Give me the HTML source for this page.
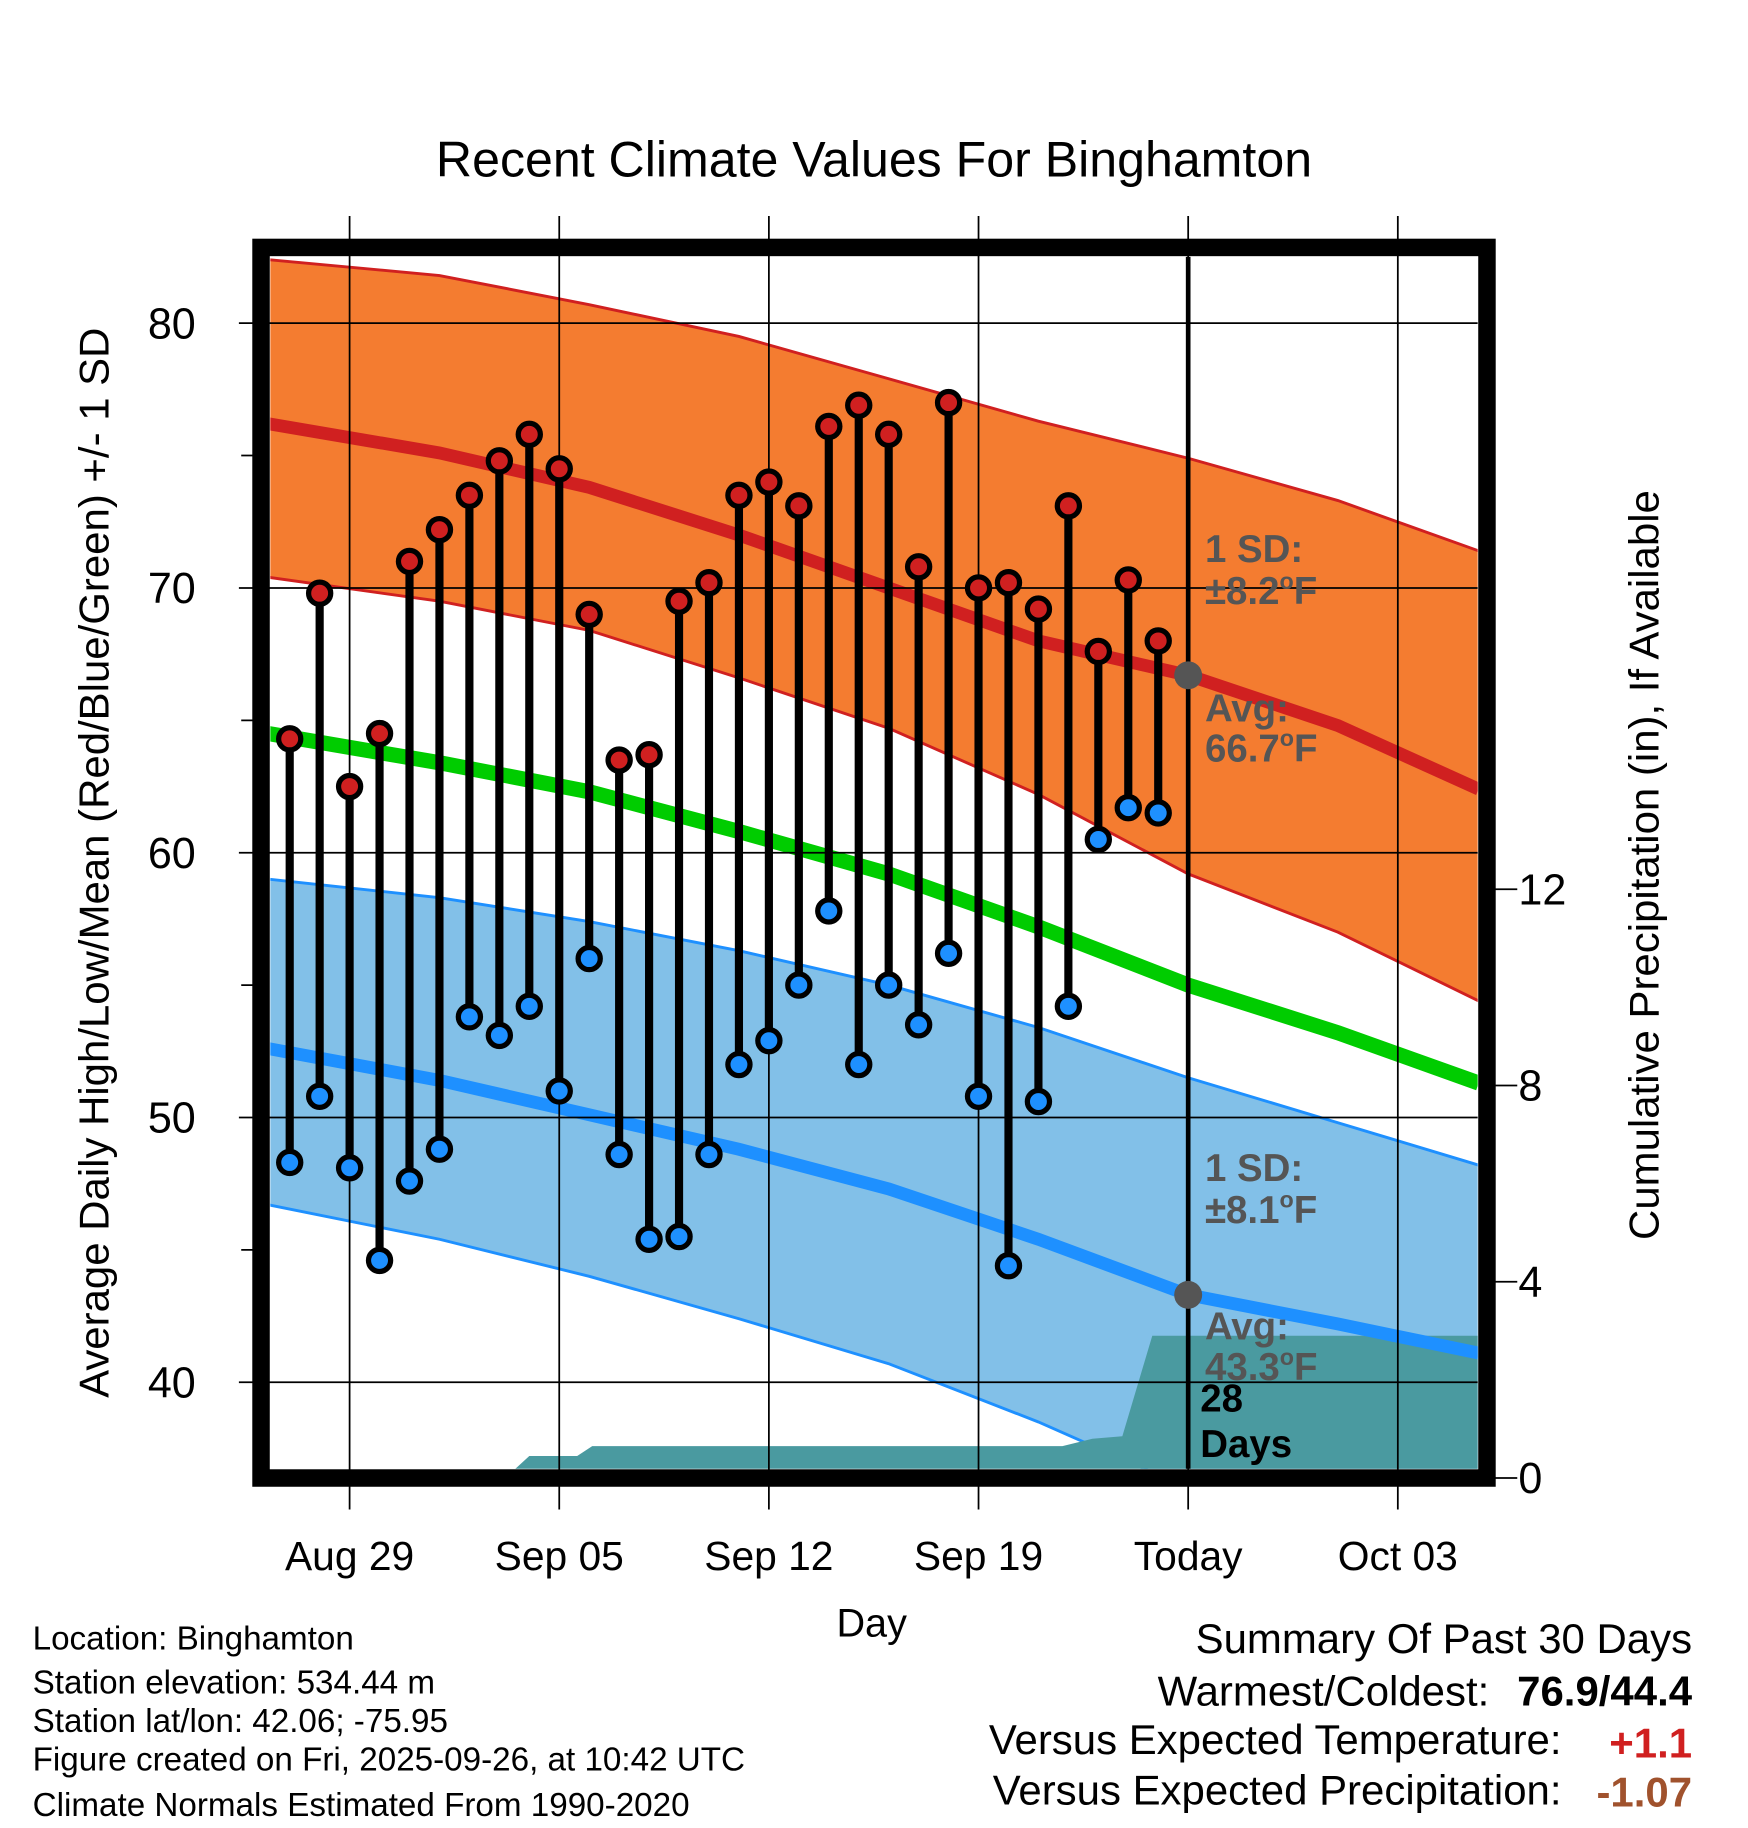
<!DOCTYPE html>
<html><head><meta charset="utf-8"><style>
html,body{margin:0;padding:0;background:#fff;}
svg{display:block;font-family:"Liberation Sans",Arial,sans-serif;}
</style></head><body>
<svg id="chart" width="1748" height="1828" viewBox="0 0 1500 1568" xmlns="http://www.w3.org/2000/svg">
<text x="750" y="151" font-size="43" text-anchor="middle">Recent Climate Values For Binghamton</text>
<defs><clipPath id="plotclip"><rect x="232" y="220" width="1036" height="1040"/></clipPath></defs>
<g id="bands" clip-path="url(#plotclip)"></g>
<g id="grid"></g>
<g id="marks" clip-path="url(#plotclip)"></g>
<g id="axes"></g>
<text transform="translate(93,740) rotate(-90)" font-size="36" text-anchor="middle">Average Daily High/Low/Mean (Red/Blue/Green) +/- 1 SD</text>
<text transform="translate(1423,742) rotate(-90)" font-size="36" text-anchor="middle">Cumulative Precipitation (in), If Available</text>
<text x="748" y="1404" font-size="34" text-anchor="middle">Day</text>
<g font-size="33" font-weight="bold" fill="#555">
<text x="1034" y="482">1 SD:</text>
<text x="1034" y="518">±8.2<tspan font-size="20" dy="-13">o</tspan><tspan dy="13">F</tspan></text>
<text x="1034" y="619">Avg:</text>
<text x="1034" y="653">66.7<tspan font-size="20" dy="-13">o</tspan><tspan dy="13">F</tspan></text>
<text x="1034" y="1013">1 SD:</text>
<text x="1034" y="1049">±8.1<tspan font-size="20" dy="-13">o</tspan><tspan dy="13">F</tspan></text>
<text x="1034" y="1149">Avg:</text>
<text x="1034" y="1184">43.3<tspan font-size="20" dy="-13">o</tspan><tspan dy="13">F</tspan></text>
<text x="1030" y="1211" fill="#000">28</text>
<text x="1030" y="1250" fill="#000">Days</text>
</g>
<g font-size="28.5">
<text x="28" y="1415">Location: Binghamton</text>
<text x="28" y="1453">Station elevation: 534.44 m</text>
<text x="28" y="1486">Station lat/lon: 42.06; -75.95</text>
<text x="28" y="1519">Figure created on Fri, 2025-09-26, at 10:42 UTC</text>
<text x="28" y="1558">Climate Normals Estimated From 1990-2020</text>
</g>
<g font-size="36" text-anchor="end">
<text x="1452" y="1418">Summary Of Past 30 Days</text>
<text x="1278" y="1463">Warmest/Coldest:</text>
<text x="1452" y="1463" font-weight="bold">76.9/44.4</text>
<text x="1340" y="1505">Versus Expected Temperature:</text>
<text x="1452" y="1508" font-weight="bold" fill="#d02020">+1.1</text>
<text x="1340" y="1548">Versus Expected Precipitation:</text>
<text x="1452" y="1550" font-weight="bold" fill="#a0522d">-1.07</text>
</g>
</svg>
<script>
const days = [0,1,2,3,4,5,6,7,8,9,10,11,12,13,14,15,16,17,18,19,20,21,22,23,24,25,26,27,28,29];
const highs = [64.3,69.8,62.5,64.5,71.0,72.2,73.5,74.8,75.8,74.5,69.0,63.5,63.7,69.5,70.2,73.5,74.0,73.1,76.1,76.9,75.8,70.8,77.0,70.0,70.2,69.2,73.1,67.6,70.3,68.0];
const lows = [48.3,50.8,48.1,44.6,47.6,48.8,53.8,53.1,54.2,51.0,56.0,48.6,45.4,45.5,48.6,52.0,52.9,55.0,57.8,52.0,55.0,53.5,56.2,50.8,44.4,50.6,54.2,60.5,61.7,61.5];
const normDays = [-0.7,5,10,15,20,25,30,35,39.7];
const highAvg = [76.2,75.1,73.8,72.0,70.0,68.0,66.7,64.8,62.4];
const highUpper = [82.4,81.8,80.7,79.5,77.9,76.3,74.9,73.3,71.4];
const highLower = [70.4,69.5,68.4,66.6,64.7,62.2,59.2,57.0,54.4];
const meanAvg = [64.5,63.4,62.3,60.8,59.2,57.2,55.0,53.2,51.3];
const lowAvg = [52.6,51.4,50.1,48.8,47.3,45.4,43.3,42.2,41.1];
const lowUpper = [59.0,58.3,57.4,56.3,55.0,53.4,51.5,49.8,48.2];
const lowLower = [46.7,45.4,44.0,42.4,40.7,38.5,36.0,33.5,31.0];
const precipDays = [-0.7,7.2,8.0,9.6,10.1,25.8,26.8,27.8,28.8,39.7];
const precipVals = [0,0,0.45,0.45,0.65,0.65,0.8,0.85,2.9,2.9];
const xTickDays = [2,9,16,23,30,37];
const xTickLabels = ["Aug 29","Sep 05","Sep 12","Sep 19","Today","Oct 03"];
const yTicks = [40,50,60,70,80];
const y2Ticks = [0,4,8,12];
const todayHigh = 66.7, todayLow = 43.3, todayDay = 30;

const NS="http://www.w3.org/2000/svg";
const X = d => 248.6 + d*25.7;
const Y = v => 277 + (80-v)*22.72;
const Y2 = p => 1268 - p*42.1;
function mk(tag, attrs, parent){const e=document.createElementNS(NS,tag);for(const k in attrs)e.setAttribute(k,attrs[k]);parent.appendChild(e);return e;}
const bands=document.getElementById('bands'), grid=document.getElementById('grid'), marks=document.getElementById('marks'), axes=document.getElementById('axes');
function line(ds,vs,f){return ds.map((d,i)=>(i?'L':'M')+X(d).toFixed(1)+','+f(vs[i]).toFixed(1)).join(' ');}
function band(up,lo){return line(normDays,up,Y)+' '+normDays.slice().reverse().map((d,i)=>'L'+X(d).toFixed(1)+','+Y(lo[lo.length-1-i]).toFixed(1)).join(' ')+'Z';}
let e;
e=mk('path',{d:band(highUpper,highLower),fill:'#f47c30',stroke:'none'},bands);

e=mk('path',{d:band(lowUpper,lowLower),fill:'#82c0e8',stroke:'none'},bands);

[[highUpper,'#d02020'],[highLower,'#d02020'],[lowUpper,'#1e90ff'],[lowLower,'#1e90ff']].forEach(([a,c])=>{
 e=mk('path',{d:line(normDays,a,Y),fill:'none',stroke:c,'stroke-width':2.5},bands);
 
});
let pd=line(precipDays,precipVals,Y2)+' L'+X(precipDays[precipDays.length-1])+','+Y2(0)+' L'+X(precipDays[0])+','+Y2(0)+'Z';
e=mk('path',{d:pd,fill:'#4a9aa0',stroke:'none'},bands);

e=mk('path',{d:line(normDays,highAvg,Y),fill:'none',stroke:'#d02020','stroke-width':11},bands);

e=mk('path',{d:line(normDays,meanAvg,Y),fill:'none',stroke:'#00cc00','stroke-width':13},bands);

e=mk('path',{d:line(normDays,lowAvg,Y),fill:'none',stroke:'#1e90ff','stroke-width':11},bands);

yTicks.forEach(v=>{
 e=mk('line',{x1:205,x2:1268,y1:Y(v),y2:Y(v),stroke:'#000','stroke-width':1.5},grid);
 
 e=mk('text',{x:168,y:Y(v)+13,'font-size':37,'text-anchor':'end'},axes);e.textContent=v;
 
 if(v>40){e=mk('line',{x1:207,x2:222,y1:Y(v-5),y2:Y(v-5),stroke:'#000','stroke-width':1.5},grid);
 }
});
xTickDays.forEach((d,i)=>{
 e=mk('line',{x1:X(d),x2:X(d),y1:185,y2:1295,stroke:'#000','stroke-width':1.5},grid);
 
 e=mk('text',{x:X(d),y:1347,'font-size':35,'text-anchor':'middle'},axes);e.textContent=xTickLabels[i];
 
});
y2Ticks.forEach(p=>{
 e=mk('line',{x1:1276,x2:1302,y1:Y2(p),y2:Y2(p),stroke:'#000','stroke-width':1.5},axes);
 
 e=mk('text',{x:1303,y:Y2(p)+13,'font-size':37},axes);e.textContent=p;
 
});
e=mk('line',{x1:X(todayDay),x2:X(todayDay),y1:220,y2:1262,stroke:'#000','stroke-width':4},marks);

days.forEach((d,i)=>{
 e=mk('line',{x1:X(d),x2:X(d),y1:Y(highs[i]),y2:Y(lows[i]),stroke:'#000','stroke-width':7},marks);
 
});
days.forEach((d,i)=>{
 e=mk('circle',{cx:X(d),cy:Y(highs[i]),r:9.5,fill:'#d02020',stroke:'#000','stroke-width':4.5},marks);
 
 e=mk('circle',{cx:X(d),cy:Y(lows[i]),r:9.5,fill:'#1e90ff',stroke:'#000','stroke-width':4.5},marks);
 
});
e=mk('circle',{cx:X(todayDay),cy:Y(todayHigh),r:12,fill:'#555'},marks);

e=mk('circle',{cx:X(todayDay),cy:Y(todayLow),r:12,fill:'#555'},marks);

e=mk('rect',{x:224,y:212,width:1052,height:1056,fill:'none',stroke:'#000','stroke-width':15},axes);

</script>
</body></html>
